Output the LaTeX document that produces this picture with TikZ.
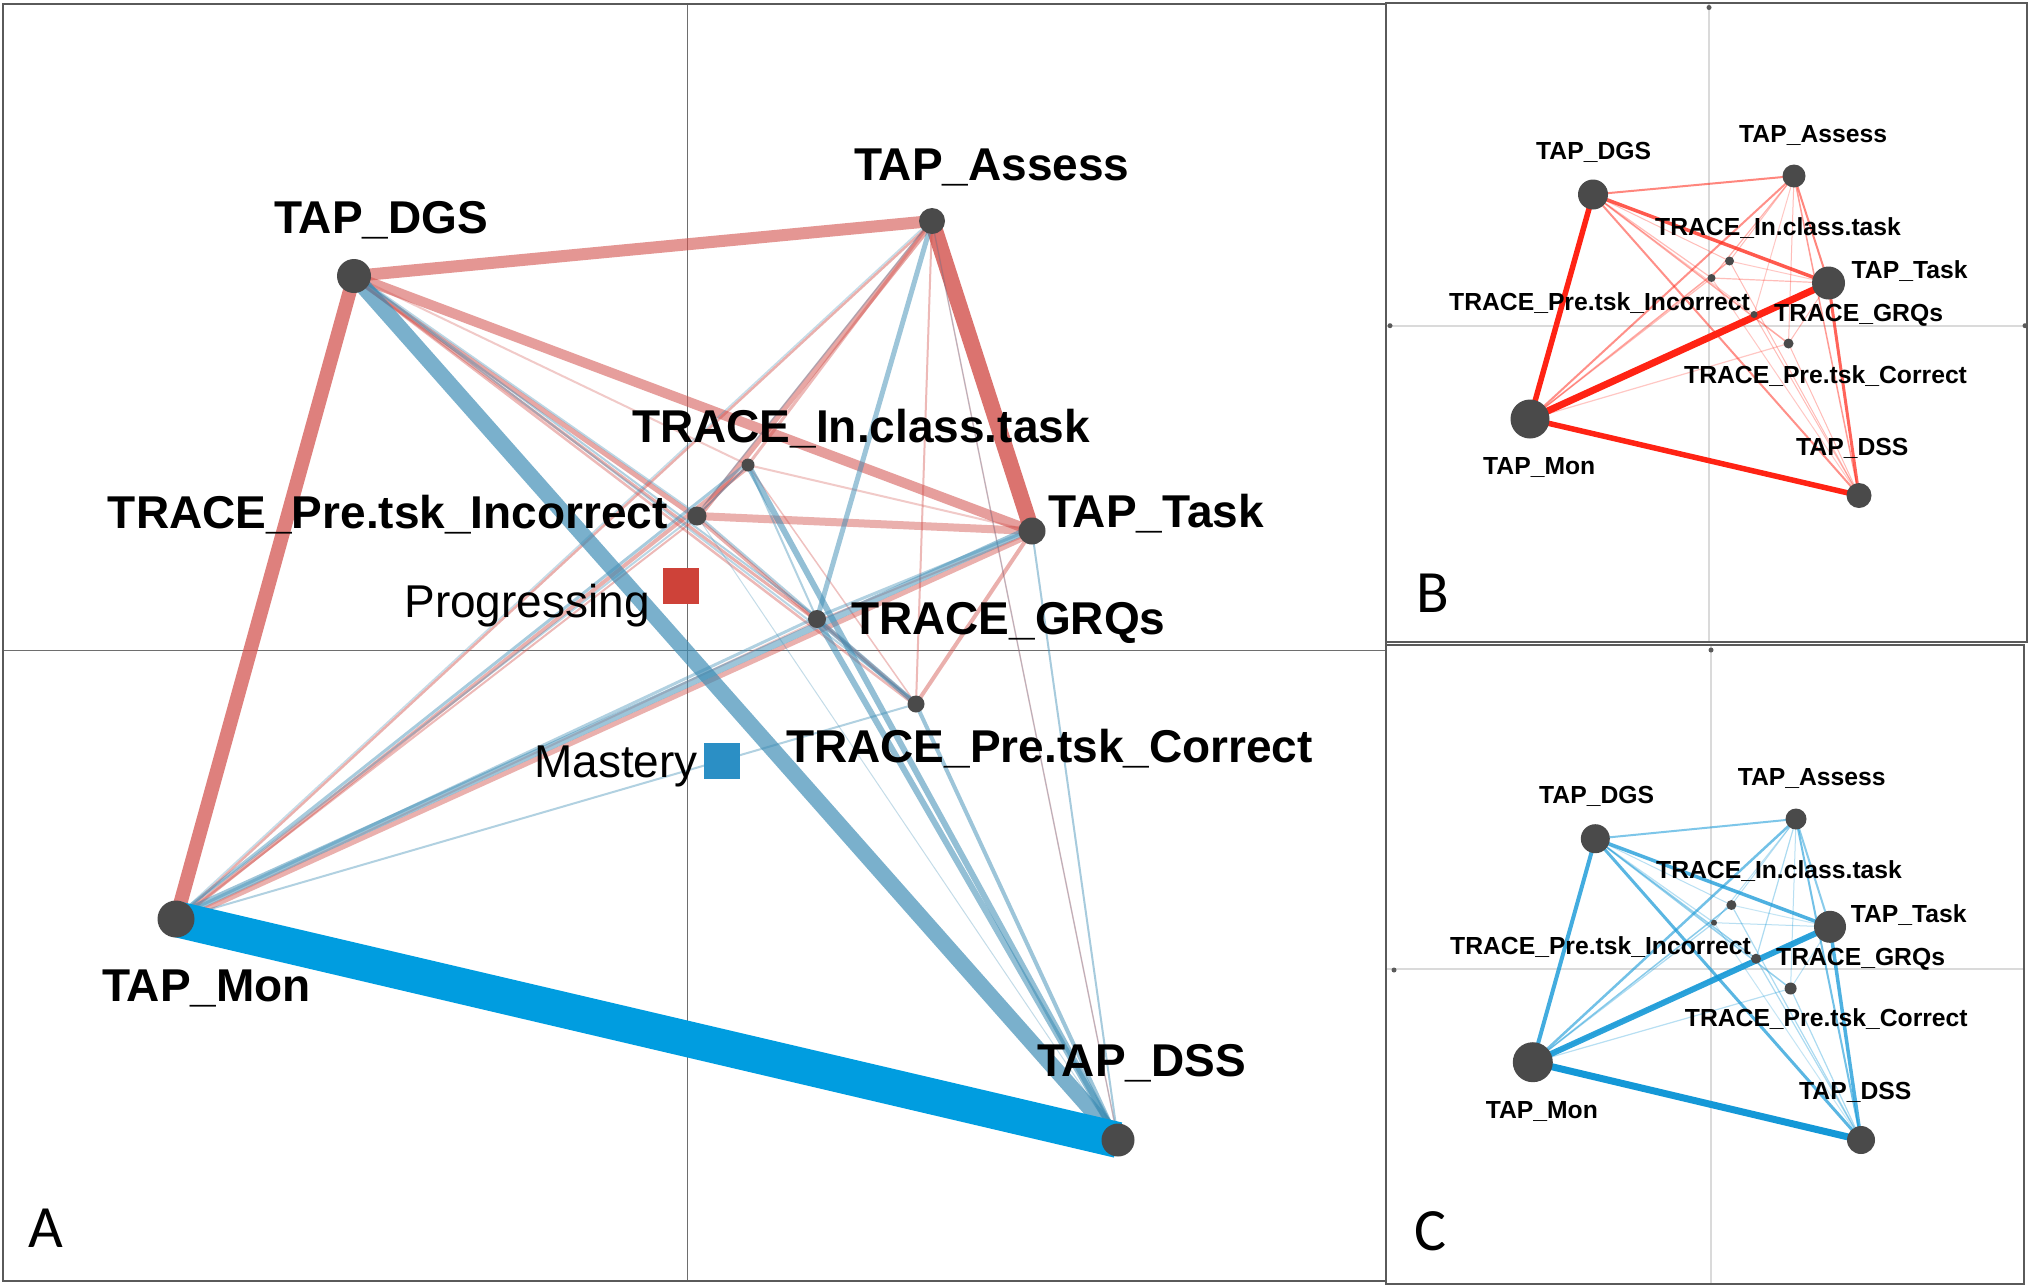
\documentclass[tikz,border=0pt]{standalone}
\usepackage{fontspec}
\setmainfont{Liberation Sans}
\newfontfamily\letterfont{Carlito}
\definecolor{nodegray}{RGB}{74,74,74}
\definecolor{enared}{RGB}{210,80,75}
\definecolor{enablue}{RGB}{60,140,180}
\definecolor{monblue}{RGB}{0,157,224}
\definecolor{bred}{RGB}{255,35,20}
\definecolor{cblue}{RGB}{20,152,215}
\definecolor{progred}{RGB}{206,66,57}
\definecolor{mastblue}{RGB}{43,143,197}
\definecolor{framegray}{RGB}{90,90,90}
\definecolor{axisA}{RGB}{110,110,110}
\definecolor{axisS}{RGB}{218,218,218}
\pgfdeclarelayer{bg}
\pgfsetlayers{bg,main}
\begin{document}
\begin{tikzpicture}[x=1pt,y=-1pt,
  enadot/.style={circle,fill=nodegray,draw=none,inner sep=0pt,minimum size=#1},
  sqr/.style={rectangle,draw=none,inner sep=0pt,minimum size=36pt},
  lblA/.style={font=\fontsize{46}{46}\selectfont\bfseries,inner sep=0pt,anchor=base west},
  lblS/.style={font=\fontsize{24.7}{24.7}\selectfont\bfseries,inner sep=0pt,anchor=base west},
  lblR/.style={font=\fontsize{46}{46}\selectfont,inner sep=0pt,anchor=base east},
  lett/.style={font=\letterfont\fontsize{60}{60}\selectfont,inner sep=0pt,anchor=base west},
  redA/.style 2 args={draw=enared,line width=#1pt,draw opacity=#2},
  bluA/.style 2 args={draw=enablue,line width=#1pt,draw opacity=#2},
  redB/.style 2 args={draw=bred,line width=#1pt,draw opacity=#2},
  bluC/.style 2 args={draw=cblue,line width=#1pt,draw opacity=#2},
  upper/.style={transform canvas={yshift=#1pt}},
  lower/.style={transform canvas={yshift=-#1pt}},
  axA/.style={draw=axisA,line width=1.4pt},
  axS/.style={draw=axisS,line width=1.8pt},
  frm/.style={draw=framegray,line width=2.5pt},
  tickdot/.style={circle,fill=framegray,inner sep=0pt,minimum size=5pt}]
\useasboundingbox (0,0) rectangle (2034,1286);

% ---------------- Panel A nodes ----------------
\node[enadot=34] (Adgs) at (354,276) {};
\node[enadot=26] (Aass) at (932,221) {};
\node[enadot=13] (Aicl) at (748,465) {};
\node[enadot=19] (Ainc) at (697,516) {};
\node[enadot=27] (Atsk) at (1032,531) {};
\node[enadot=18] (Agrq) at (817,619) {};
\node[enadot=17] (Acor) at (916,704) {};
\node[enadot=37] (Amon) at (176,919) {};
\node[enadot=33] (Adss) at (1118,1140) {};
\node[sqr,fill=progred] (Aprog) at (681,586) {};
\node[sqr,fill=mastblue] (Amast) at (722,760.5) {};

\node[lblA] (tAdgs) at (274,233) {TAP\_DGS};
\node[lblA] (tAass) at (854,180) {TAP\_Assess};
\node[lblA] (tAicl) at (632,442) {TRACE\_In.class.task};
\node[lblA,anchor=base east] (tAinc) at (668,528) {TRACE\_Pre.tsk\_Incorrect};
\node[lblA] (tAtsk) at (1048,527) {TAP\_Task};
\node[lblA] (tAgrq) at (851,634) {TRACE\_GRQs};
\node[lblA] (tAcor) at (786,762) {TRACE\_Pre.tsk\_Correct};
\node[lblA] (tAmon) at (102,1001) {TAP\_Mon};
\node[lblA] (tAdss) at (1037,1076) {TAP\_DSS};
\node[lblR] (tAprog) at (650,617) {Progressing};
\node[lblR] (tAmast) at (698,777) {Mastery};
\node[lett] (letA) at (28,1247) {A};

% ---------------- Panel B nodes ----------------
\node[enadot=30] (Bdgs) at (1593,194.5) {};
\node[enadot=23] (Bass) at (1794,176) {};
\node[enadot=9] (Bicl) at (1729.5,261) {};
\node[enadot=8] (Binc) at (1711.5,278) {};
\node[enadot=33] (Btsk) at (1828.5,283) {};
\node[enadot=7] (Bgrq) at (1754,314.5) {};
\node[enadot=10] (Bcor) at (1788.5,343.5) {};
\node[enadot=39] (Bmon) at (1530,419) {};
\node[enadot=25] (Bdss) at (1859,495.5) {};

\node[lblS] (tBdgs) at (1536,159.4) {TAP\_DGS};
\node[lblS] (tBass) at (1739,142) {TAP\_Assess};
\node[lblS] (tBicl) at (1655,235) {TRACE\_In.class.task};
\node[lblS] (tBtsk) at (1851.5,278.6) {TAP\_Task};
\node[lblS] (tBinc) at (1449,310.4) {TRACE\_Pre.tsk\_Incorrect};
\node[lblS] (tBgrq) at (1774,321.6) {TRACE\_GRQs};
\node[lblS] (tBcor) at (1684,383) {TRACE\_Pre.tsk\_Correct};
\node[lblS] (tBmon) at (1483,474) {TAP\_Mon};
\node[lblS] (tBdss) at (1796,455.3) {TAP\_DSS};
\node[lett] (letB) at (1416,612.6) {B};

% ---------------- Panel C nodes ----------------
\node[enadot=29] (Cdgs) at (1595.3,838.7) {};
\node[enadot=21] (Cass) at (1796,819) {};
\node[enadot=10] (Cicl) at (1731.4,905) {};
\node[enadot=6] (Cinc) at (1714,922.7) {};
\node[enadot=32] (Ctsk) at (1830,926.8) {};
\node[enadot=10] (Cgrq) at (1756,958.7) {};
\node[enadot=12] (Ccor) at (1790.6,988.5) {};
\node[enadot=40] (Cmon) at (1532.8,1062.2) {};
\node[enadot=28] (Cdss) at (1861,1140) {};

\node[lblS] (tCdgs) at (1539,803.5) {TAP\_DGS};
\node[lblS] (tCass) at (1737.6,785.7) {TAP\_Assess};
\node[lblS] (tCicl) at (1656,878.8) {TRACE\_In.class.task};
\node[lblS] (tCtsk) at (1850.6,922.3) {TAP\_Task};
\node[lblS] (tCinc) at (1450,954.6) {TRACE\_Pre.tsk\_Incorrect};
\node[lblS] (tCgrq) at (1776,965) {TRACE\_GRQs};
\node[lblS] (tCcor) at (1684.7,1026.2) {TRACE\_Pre.tsk\_Correct};
\node[lblS] (tCmon) at (1485.6,1118) {TAP\_Mon};
\node[lblS] (tCdss) at (1799,1099.4) {TAP\_DSS};
\node[lett] (letC) at (1414,1250.5) {C};

\begin{pgfonlayer}{bg}
\fill[white] (0,0) rectangle (2034,1286);
% axes
\draw[axA] (687.5,4) -- (687.5,1281);
\draw[axA] (3,650.5) -- (1386,650.5);
\draw[axS] (1709,4) -- (1709,641);
\draw[axS] (1387,325.7) -- (2026,325.7);
\draw[axS] (1711,646) -- (1711,1283);
\draw[axS] (1387,969) -- (2023,969);
\node[tickdot] (tk1) at (1709,7.5) {};
\node[tickdot] (tk2) at (1390,325.7) {};
\node[tickdot] (tk3) at (2025,325.7) {};
\node[tickdot] (tk4) at (1711,650) {};
\node[tickdot] (tk5) at (1394,970) {};
% frames
\draw[frm] (3,4) rectangle (1386,1281);
\draw[frm] (1386,3) rectangle (2027,642);
\draw[frm] (1386,645) rectangle (2024,1284);

% ---- Panel A red edges ----
\draw[redA={14}{0.72}] (Adgs.center) -- (Amon.center);
\draw[redA={12}{0.6}] (Adgs.center) -- (Aass.center);
\draw[redA={16}{0.8}] (Aass.center) -- (Atsk.center);
\draw[redA={10}{0.55}] (Adgs.center) -- (Atsk.center);
\draw[redA={8}{0.45}] (Ainc.center) -- (Atsk.center);
\draw[redA={5}{0.5},lower=2] (Adgs.center) -- (Ainc.center);
\draw[redA={3}{0.45},lower=2] (Adgs.center) -- (Agrq.center);
\draw[redA={2.5}{0.4},lower=2] (Adgs.center) -- (Acor.center);
\draw[redA={2}{0.3}] (Adgs.center) -- (Aicl.center);
\draw[redA={2.5}{0.45},lower=1.5] (Aass.center) -- (Amon.center);
\draw[redA={6}{0.5},lower=2] (Aass.center) -- (Ainc.center);
\draw[redA={3}{0.4}] (Aass.center) -- (Aicl.center);
\draw[redA={2}{0.4}] (Aass.center) -- (Acor.center);
\draw[redA={1.5}{0.35}] (Aass.center) -- (Adss.center);
\draw[redA={4}{0.45},lower=2.5] (Amon.center) -- (Aicl.center);
\draw[redA={2}{0.4},lower=2] (Amon.center) -- (Ainc.center);
\draw[redA={5}{0.45},lower=3.5] (Amon.center) -- (Atsk.center);
\draw[redA={2}{0.3},lower=2] (Amon.center) -- (Agrq.center);
\draw[redA={4}{0.45}] (Atsk.center) -- (Acor.center);
\draw[redA={2}{0.35},lower=2] (Atsk.center) -- (Agrq.center);
\draw[redA={2}{0.3}] (Atsk.center) -- (Aicl.center);
\draw[redA={3}{0.45},lower=2] (Ainc.center) -- (Agrq.center);
\draw[redA={1.5}{0.3}] (Ainc.center) -- (Acor.center);
\draw[redA={1.5}{0.35}] (Aicl.center) -- (Acor.center);
\draw[redA={4}{0.4}] (Agrq.center) -- (Acor.center);
\draw[redA={2}{0.4}] (Aicl.center) -- (Ainc.center);
% ---- Panel A blue edges ----
\draw[bluA={16}{0.68}] (Adgs.center) -- (Adss.center);
\draw[bluA={7}{0.5},upper=3] (Amon.center) -- (Atsk.center);
\draw[bluA={3}{0.45},upper=2.5] (Amon.center) -- (Aicl.center);
\draw[bluA={2}{0.4}] (Amon.center) -- (Acor.center);
\draw[bluA={3}{0.4},upper=2] (Amon.center) -- (Agrq.center);
\draw[bluA={2}{0.35},upper=2] (Amon.center) -- (Ainc.center);
\draw[bluA={1.5}{0.3},upper=1.5] (Amon.center) -- (Aass.center);
\draw[bluA={5}{0.5}] (Aass.center) -- (Agrq.center);
\draw[bluA={1.5}{0.3},upper=2] (Aass.center) -- (Ainc.center);
\draw[bluA={6}{0.55}] (Aicl.center) -- (Adss.center);
\draw[bluA={6}{0.55}] (Agrq.center) -- (Adss.center);
\draw[bluA={4}{0.5}] (Acor.center) -- (Adss.center);
\draw[bluA={2}{0.45}] (Atsk.center) -- (Adss.center);
\draw[bluA={2}{0.4},upper=2] (Adgs.center) -- (Agrq.center);
\draw[bluA={2}{0.35},upper=2] (Adgs.center) -- (Acor.center);
\draw[bluA={2}{0.35},upper=2] (Adgs.center) -- (Ainc.center);
\draw[bluA={1.5}{0.4},upper=2] (Ainc.center) -- (Agrq.center);
\draw[bluA={1}{0.3}] (Ainc.center) -- (Adss.center);
\draw[bluA={1}{0.3}] (Ainc.center) -- (Acor.center);
\draw[bluA={5}{0.5}] (Agrq.center) -- (Acor.center);
\draw[bluA={3}{0.4},upper=2] (Atsk.center) -- (Agrq.center);
\draw[bluA={2}{0.4}] (Aicl.center) -- (Ainc.center);
\draw[bluA={1}{0.3}] (Aass.center) -- (Adss.center);
\draw[bluA={2}{0.4}] (Aicl.center) -- (Agrq.center);
\draw[draw=monblue,line width=36pt] (Amon.center) -- (Adss.center);

% ---- Panel B edges ----
\draw[redB={1}{0.3}] (Bdgs.center) -- (Bicl.center);
\draw[redB={1.2}{0.3}] (Bdgs.center) -- (Binc.center);
\draw[redB={1}{0.25}] (Bdgs.center) -- (Bgrq.center);
\draw[redB={1.5}{0.4}] (Bdgs.center) -- (Bcor.center);
\draw[redB={1}{0.3}] (Bass.center) -- (Bicl.center);
\draw[redB={1.2}{0.35}] (Bass.center) -- (Binc.center);
\draw[redB={1}{0.25}] (Bass.center) -- (Bgrq.center);
\draw[redB={1}{0.3}] (Bass.center) -- (Bcor.center);
\draw[redB={1.2}{0.3}] (Btsk.center) -- (Binc.center);
\draw[redB={1}{0.25}] (Btsk.center) -- (Bicl.center);
\draw[redB={1}{0.25}] (Btsk.center) -- (Bgrq.center);
\draw[redB={1}{0.3}] (Btsk.center) -- (Bcor.center);
\draw[redB={1}{0.3}] (Bdss.center) -- (Bgrq.center);
\draw[redB={1}{0.3}] (Bdss.center) -- (Bcor.center);
\draw[redB={1}{0.3}] (Bdss.center) -- (Bicl.center);
\draw[redB={1}{0.25}] (Bdss.center) -- (Binc.center);
\draw[redB={1.5}{0.4}] (Bmon.center) -- (Bicl.center);
\draw[redB={1.2}{0.3}] (Bmon.center) -- (Binc.center);
\draw[redB={1}{0.25}] (Bmon.center) -- (Bgrq.center);
\draw[redB={1.2}{0.25}] (Bmon.center) -- (Bcor.center);
\draw[redB={2}{0.5}] (Bass.center) -- (Bmon.center);
\draw[redB={2}{0.5}] (Bdgs.center) -- (Bdss.center);
\draw[redB={2}{0.55}] (Bdgs.center) -- (Bass.center);
\draw[redB={1.5}{0.45}] (Bass.center) -- (Bdss.center);
\draw[redB={2}{0.55}] (Bass.center) -- (Btsk.center);
\draw[redB={3}{0.7}] (Btsk.center) -- (Bdss.center);
\draw[redB={3.5}{0.75}] (Bdgs.center) -- (Btsk.center);
\draw[redB={5.5}{1}] (Bmon.center) -- (Bdgs.center);
\draw[redB={5.5}{1}] (Bmon.center) -- (Bdss.center);
\draw[redB={7}{1}] (Bmon.center) -- (Btsk.center);

% ---- Panel C edges ----
\draw[bluC={1}{0.3}] (Cdgs.center) -- (Cicl.center);
\draw[bluC={1.2}{0.3}] (Cdgs.center) -- (Cinc.center);
\draw[bluC={1.5}{0.45}] (Cdgs.center) -- (Cgrq.center);
\draw[bluC={1.5}{0.45}] (Cdgs.center) -- (Ccor.center);
\draw[bluC={1}{0.3}] (Cass.center) -- (Cicl.center);
\draw[bluC={1}{0.3}] (Cass.center) -- (Cinc.center);
\draw[bluC={1.2}{0.35}] (Cass.center) -- (Cgrq.center);
\draw[bluC={1}{0.3}] (Cass.center) -- (Ccor.center);
\draw[bluC={1}{0.3}] (Ctsk.center) -- (Cinc.center);
\draw[bluC={1}{0.25}] (Ctsk.center) -- (Cicl.center);
\draw[bluC={1}{0.3}] (Ctsk.center) -- (Cgrq.center);
\draw[bluC={1}{0.3}] (Ctsk.center) -- (Ccor.center);
\draw[bluC={1.2}{0.35}] (Cdss.center) -- (Cgrq.center);
\draw[bluC={1.2}{0.35}] (Cdss.center) -- (Ccor.center);
\draw[bluC={1.2}{0.35}] (Cdss.center) -- (Cicl.center);
\draw[bluC={1}{0.25}] (Cdss.center) -- (Cinc.center);
\draw[bluC={1.5}{0.5}] (Cmon.center) -- (Cicl.center);
\draw[bluC={1.2}{0.35}] (Cmon.center) -- (Cinc.center);
\draw[bluC={1.2}{0.35}] (Cmon.center) -- (Cgrq.center);
\draw[bluC={1.2}{0.3}] (Cmon.center) -- (Ccor.center);
\draw[bluC={2.5}{0.6}] (Cass.center) -- (Cmon.center);
\draw[bluC={3}{0.7}] (Cdgs.center) -- (Cdss.center);
\draw[bluC={2}{0.55}] (Cdgs.center) -- (Cass.center);
\draw[bluC={2}{0.6}] (Cass.center) -- (Cdss.center);
\draw[bluC={2}{0.5}] (Cass.center) -- (Ctsk.center);
\draw[bluC={3.5}{0.75}] (Ctsk.center) -- (Cdss.center);
\draw[bluC={3.5}{0.75}] (Cdgs.center) -- (Ctsk.center);
\draw[bluC={4}{0.8}] (Cmon.center) -- (Cdgs.center);
\draw[bluC={6}{0.9}] (Cmon.center) -- (Ctsk.center);
\draw[bluC={7}{1}] (Cmon.center) -- (Cdss.center);
\end{pgfonlayer}
\end{tikzpicture}
\end{document}
